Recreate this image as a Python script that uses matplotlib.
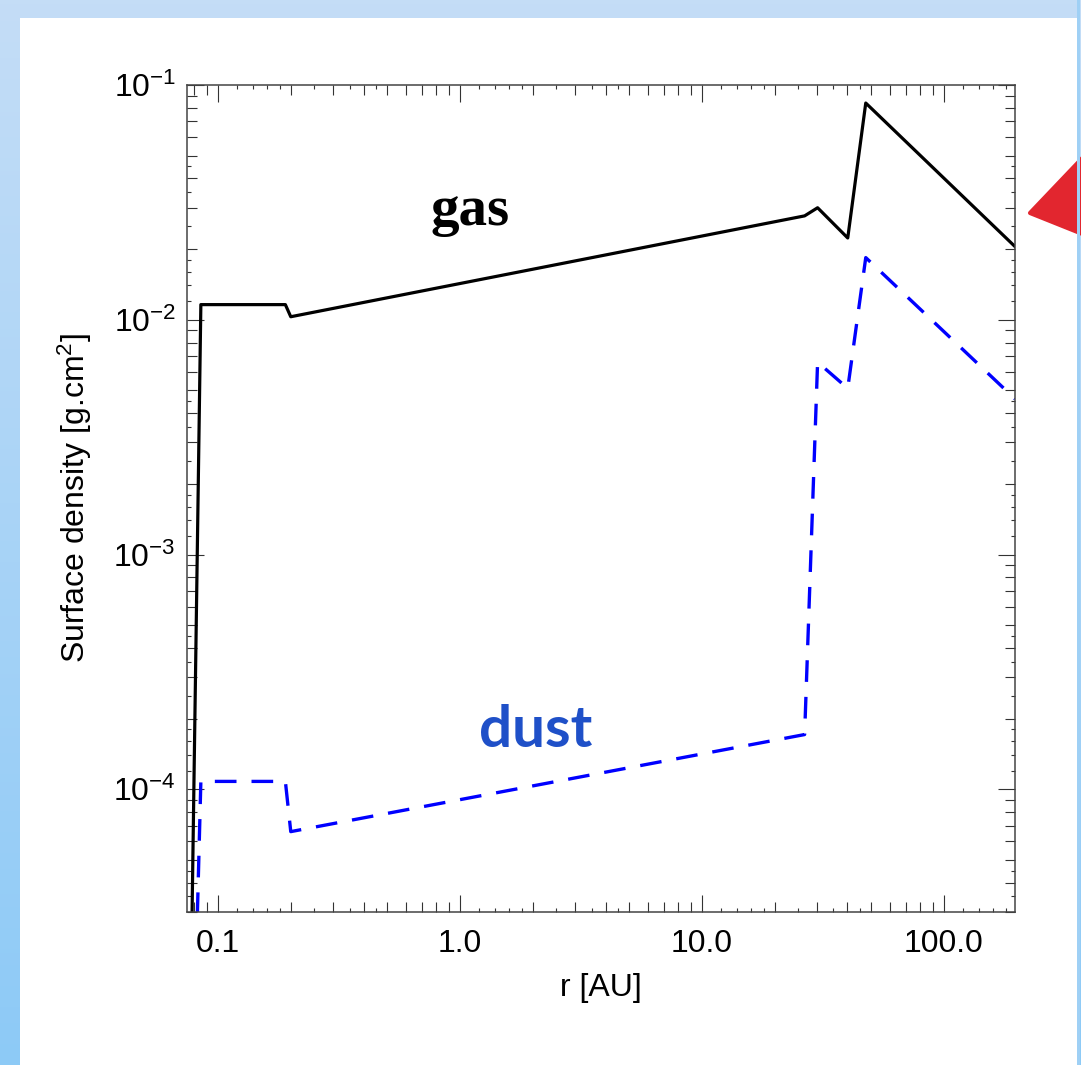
import numpy as np
import matplotlib
matplotlib.use("Agg")
import matplotlib.pyplot as plt
from matplotlib.colors import LinearSegmentedColormap
from matplotlib.patches import Rectangle, Polygon
from matplotlib.ticker import FixedLocator, FuncFormatter, LogLocator, NullFormatter, NullLocator

plt.rcParams['font.family'] = ['Liberation Sans', 'DejaVu Sans']
plt.rcParams['mathtext.fontset'] = 'custom'
plt.rcParams['mathtext.rm'] = 'Liberation Sans'
plt.rcParams['mathtext.it'] = 'Liberation Sans:italic'
plt.rcParams['mathtext.bf'] = 'Liberation Sans:bold'

# surface density profiles
gas_r = [0.077, 0.085, 0.19, 0.20, 26.6, 30.1, 40.1, 47.6, 197.0]
gas_sigma = [1.0e-5, 0.0116, 0.0116, 0.0103, 0.0277, 0.0300, 0.0223, 0.0838, 0.0205]

dust_r = [0.080, 0.085, 0.19, 0.20, 26.6, 30.1, 40.1, 47.6, 197.0]
dust_sigma = [1.0e-5, 1.08e-4, 1.08e-4, 6.6e-5, 1.71e-4, 6.6e-3, 5.1e-3, 1.84e-2, 4.6e-3]

x_major = [0.1, 1.0, 10.0, 100.0]
y_major = [1e-4, 1e-3, 1e-2, 1e-1]
# extra little ticks between the minor ones (IDL style)
tiny_subs = [1.2, 1.4, 1.6, 1.8, 2.5, 3.5, 4.5]
tiny_x = [d * s for d in [0.01, 0.1, 1, 10, 100] for s in tiny_subs]
tiny_y = [d * s for d in [1e-5, 1e-4, 1e-3, 1e-2] for s in tiny_subs]

W, H = 1081, 1065
fig = plt.figure(figsize=(W / 100, H / 100), dpi=100)

# slide background
bg = fig.add_axes([0, 0, 1, 1], zorder=0)
cmap = LinearSegmentedColormap.from_list('bg', ['#c4ddf6', '#8dcaf6'])
bg.imshow(np.linspace(0, 1, 256).reshape(-1, 1), aspect='auto', cmap=cmap,
          extent=[0, W, H, 0])
bg.add_patch(Rectangle((20, 18), 1057, H, facecolor='white', edgecolor='none'))
bg.add_patch(Polygon([[1030, 213], [1090, 150], [1090, 237]], closed=True,
                     facecolor='#e2262f', edgecolor='#e2262f', joinstyle='round', lw=3))
bg.add_patch(Rectangle((1077, 0), 2.5, H, facecolor='#9fd0f5', edgecolor='none'))
bg.set_xlim(0, W)
bg.set_ylim(H, 0)
bg.axis('off')

ax = fig.add_axes([187 / W, (H - 912) / H, 828 / W, 827 / H], zorder=1)
ax.set_facecolor('white')

ax.plot(gas_r, gas_sigma, color='black', lw=2.3)
ax.plot(dust_r, dust_sigma, color='#0000ff', lw=2.4, linestyle=(0, (6.5, 4.5)))

ax.set_xscale('log')
ax.set_yscale('log')
ax.set_xlim(0.0745, 197)
ax.set_ylim(3e-5, 0.1)

ax.xaxis.set_major_locator(FixedLocator(x_major))
ax.xaxis.set_major_formatter(FuncFormatter(lambda v, p: '%.1f' % v))
ax.xaxis.set_minor_locator(LogLocator(subs=range(2, 10)))
ax.xaxis.set_minor_formatter(NullFormatter())
ax.yaxis.set_major_locator(FixedLocator(y_major))
ax.yaxis.set_minor_locator(LogLocator(subs=range(2, 10)))
ax.yaxis.set_minor_formatter(NullFormatter())

ax.tick_params(which='both', direction='in', top=True, right=True,
               color='#333333', width=0.8, labelsize=23)
ax.tick_params(which='major', length=12)
ax.tick_params(which='minor', length=7.5)
ax.tick_params(axis='x', pad=12)
ax.tick_params(axis='y', pad=8)

for s in ax.spines.values():
    s.set_linewidth(1.1)
    s.set_color('#444444')

for side in ['bottom', 'top']:
    sec = ax.secondary_xaxis(side)
    sec.xaxis.set_major_locator(FixedLocator(tiny_x))
    sec.xaxis.set_minor_locator(NullLocator())
    sec.tick_params(direction='in', length=3, width=0.8, color='#333333',
                    labelbottom=False, labeltop=False)
    sec.spines[side].set_visible(False)
for side in ['left', 'right']:
    sec = ax.secondary_yaxis(side)
    sec.yaxis.set_major_locator(FixedLocator(tiny_y))
    sec.yaxis.set_minor_locator(NullLocator())
    sec.tick_params(direction='in', length=3, width=0.8, color='#333333',
                    labelleft=False, labelright=False)
    sec.spines[side].set_visible(False)

ax.set_xlabel('r [AU]', fontsize=23, labelpad=10)
ax.set_ylabel('Surface density [g.cm$^2$]', fontsize=23, labelpad=14)

ax.text(1.1, 0.0254, 'gas', fontsize=41, family='Liberation Serif', weight='bold',
        ha='center', va='baseline', color='black')
ax.text(2.06, 1.52e-4, 'dust', fontsize=42, family='Lato', weight='bold',
        ha='center', va='baseline', color='#1f50c8')

fig.savefig('out.png', dpi=100)
